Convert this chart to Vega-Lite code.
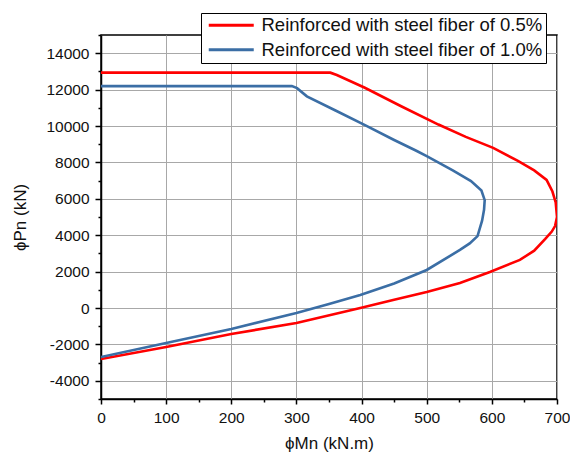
{
  "$schema": "https://vega.github.io/schema/vega-lite/v6.json",
  "autosize": "none",
  "width": 456,
  "height": 364,
  "padding": {"left": 101, "top": 35, "right": 13, "bottom": 56},
  "background": "white",
  "config": {
    "font": "Liberation Sans",
    "view": {"stroke": "black", "strokeWidth": 1.5},
    "axis": {
      "domainColor": "black",
      "domainWidth": 1.5,
      "tickColor": "black",
      "tickWidth": 1.5,
      "labelColor": "#111",
      "labelFontSize": 15.5,
      "labelFont": "Liberation Sans",
      "titleFont": "Liberation Sans",
      "titleFontSize": 17,
      "titleFontWeight": "normal",
      "titleColor": "#111",
      "gridColor": "#a8a8a8",
      "gridWidth": 1
    }
  },
  "data": {
    "values": [
      {"series": "Reinforced with steel fiber of 0.5%", "o": 1, "M": 0, "P": 12930},
      {"series": "Reinforced with steel fiber of 0.5%", "o": 2, "M": 352, "P": 12930},
      {"series": "Reinforced with steel fiber of 0.5%", "o": 3, "M": 362, "P": 12800},
      {"series": "Reinforced with steel fiber of 0.5%", "o": 4, "M": 405, "P": 12100},
      {"series": "Reinforced with steel fiber of 0.5%", "o": 5, "M": 460, "P": 11100},
      {"series": "Reinforced with steel fiber of 0.5%", "o": 6, "M": 518, "P": 10080},
      {"series": "Reinforced with steel fiber of 0.5%", "o": 7, "M": 560, "P": 9400},
      {"series": "Reinforced with steel fiber of 0.5%", "o": 8, "M": 602, "P": 8800},
      {"series": "Reinforced with steel fiber of 0.5%", "o": 9, "M": 640, "P": 8080},
      {"series": "Reinforced with steel fiber of 0.5%", "o": 10, "M": 665, "P": 7560},
      {"series": "Reinforced with steel fiber of 0.5%", "o": 11, "M": 684, "P": 7040},
      {"series": "Reinforced with steel fiber of 0.5%", "o": 12, "M": 693, "P": 6400},
      {"series": "Reinforced with steel fiber of 0.5%", "o": 13, "M": 698, "P": 5800},
      {"series": "Reinforced with steel fiber of 0.5%", "o": 14, "M": 700, "P": 5000},
      {"series": "Reinforced with steel fiber of 0.5%", "o": 15, "M": 697, "P": 4500},
      {"series": "Reinforced with steel fiber of 0.5%", "o": 16, "M": 692, "P": 4200},
      {"series": "Reinforced with steel fiber of 0.5%", "o": 17, "M": 682, "P": 3800},
      {"series": "Reinforced with steel fiber of 0.5%", "o": 18, "M": 665, "P": 3150},
      {"series": "Reinforced with steel fiber of 0.5%", "o": 19, "M": 643, "P": 2640},
      {"series": "Reinforced with steel fiber of 0.5%", "o": 20, "M": 597, "P": 1980},
      {"series": "Reinforced with steel fiber of 0.5%", "o": 21, "M": 551, "P": 1370},
      {"series": "Reinforced with steel fiber of 0.5%", "o": 22, "M": 500, "P": 880},
      {"series": "Reinforced with steel fiber of 0.5%", "o": 23, "M": 450, "P": 450},
      {"series": "Reinforced with steel fiber of 0.5%", "o": 24, "M": 398, "P": 0},
      {"series": "Reinforced with steel fiber of 0.5%", "o": 25, "M": 300, "P": -820},
      {"series": "Reinforced with steel fiber of 0.5%", "o": 26, "M": 200, "P": -1430},
      {"series": "Reinforced with steel fiber of 0.5%", "o": 27, "M": 100, "P": -2140},
      {"series": "Reinforced with steel fiber of 0.5%", "o": 28, "M": 0, "P": -2800},
      {"series": "Reinforced with steel fiber of 1.0%", "o": 1, "M": 0, "P": 12190},
      {"series": "Reinforced with steel fiber of 1.0%", "o": 2, "M": 293, "P": 12190},
      {"series": "Reinforced with steel fiber of 1.0%", "o": 3, "M": 301, "P": 12080},
      {"series": "Reinforced with steel fiber of 1.0%", "o": 4, "M": 316, "P": 11630},
      {"series": "Reinforced with steel fiber of 1.0%", "o": 5, "M": 360, "P": 10850},
      {"series": "Reinforced with steel fiber of 1.0%", "o": 6, "M": 406, "P": 10030},
      {"series": "Reinforced with steel fiber of 1.0%", "o": 7, "M": 450, "P": 9230},
      {"series": "Reinforced with steel fiber of 1.0%", "o": 8, "M": 484, "P": 8640},
      {"series": "Reinforced with steel fiber of 1.0%", "o": 9, "M": 500, "P": 8340},
      {"series": "Reinforced with steel fiber of 1.0%", "o": 10, "M": 540, "P": 7560},
      {"series": "Reinforced with steel fiber of 1.0%", "o": 11, "M": 568, "P": 6970},
      {"series": "Reinforced with steel fiber of 1.0%", "o": 12, "M": 584, "P": 6450},
      {"series": "Reinforced with steel fiber of 1.0%", "o": 13, "M": 589, "P": 5930},
      {"series": "Reinforced with steel fiber of 1.0%", "o": 14, "M": 588, "P": 5400},
      {"series": "Reinforced with steel fiber of 1.0%", "o": 15, "M": 585, "P": 4800},
      {"series": "Reinforced with steel fiber of 1.0%", "o": 16, "M": 578, "P": 3950},
      {"series": "Reinforced with steel fiber of 1.0%", "o": 17, "M": 566, "P": 3550},
      {"series": "Reinforced with steel fiber of 1.0%", "o": 18, "M": 551, "P": 3190},
      {"series": "Reinforced with steel fiber of 1.0%", "o": 19, "M": 500, "P": 2090},
      {"series": "Reinforced with steel fiber of 1.0%", "o": 20, "M": 450, "P": 1350},
      {"series": "Reinforced with steel fiber of 1.0%", "o": 21, "M": 398, "P": 710},
      {"series": "Reinforced with steel fiber of 1.0%", "o": 22, "M": 350, "P": 220},
      {"series": "Reinforced with steel fiber of 1.0%", "o": 23, "M": 300, "P": -270},
      {"series": "Reinforced with steel fiber of 1.0%", "o": 24, "M": 200, "P": -1150},
      {"series": "Reinforced with steel fiber of 1.0%", "o": 25, "M": 100, "P": -1920},
      {"series": "Reinforced with steel fiber of 1.0%", "o": 26, "M": 0, "P": -2690}
    ]
  },
  "mark": {"type": "line", "strokeWidth": 2.6, "clip": true},
  "encoding": {
    "x": {
      "field": "M", "type": "quantitative",
      "scale": {"domain": [0, 700], "nice": false, "zero": false},
      "axis": {
        "title": "ϕMn (kN.m)",
        "values": [0, 50, 100, 150, 200, 250, 300, 350, 400, 450, 500, 550, 600, 650, 700],
        "labelExpr": "datum.value % 100 === 0 ? datum.value : ''",
        "tickSize": {"condition": {"test": "datum.value % 100 === 0", "value": 5}, "value": 3},
        "gridOpacity": {"condition": {"test": "datum.value % 100 === 0", "value": 1}, "value": 0},
        "labelPadding": 6,
        "titlePadding": 10,
        "labelFlush": false
      }
    },
    "y": {
      "field": "P", "type": "quantitative",
      "scale": {"domain": [-5000, 15000], "nice": false, "zero": false},
      "axis": {
        "title": "ϕPn (kN)",
        "values": [-5000, -4000, -3000, -2000, -1000, 0, 1000, 2000, 3000, 4000, 5000, 6000, 7000, 8000, 9000, 10000, 11000, 12000, 13000, 14000, 15000],
        "labelExpr": "datum.value % 2000 === 0 && datum.value >= -4000 && datum.value <= 14000 ? datum.value : ''",
        "tickSize": {"condition": {"test": "datum.value % 2000 === 0", "value": 6}, "value": 3},
        "gridOpacity": {"condition": {"test": "datum.value % 2000 === 0 && datum.value > -5000", "value": 1}, "value": 0},
        "labelPadding": 6,
        "titlePadding": 16,
        "labelFlush": false
      }
    },
    "color": {
      "field": "series", "type": "nominal",
      "scale": {"domain": ["Reinforced with steel fiber of 0.5%", "Reinforced with steel fiber of 1.0%"], "range": ["#ff0000", "#3b6ea5"]},
      "legend": {
        "title": null,
        "orient": "none",
        "legendX": 100,
        "legendY": -22,
        "symbolType": "M-4.5,0H4.5",
        "symbolSize": 100,
        "symbolStrokeWidth": 3,
        "symbolOffset": 18,
        "labelOffset": 21,
        "labelFontSize": 18.5,
        "labelFont": "Liberation Sans",
        "labelColor": "#111",
        "labelLimit": 400,
        "rowPadding": 5.5,
        "padding": 3,
        "strokeColor": "black",
        "fillColor": "white"
      }
    },
    "order": {"field": "o", "type": "quantitative"}
  }
}
